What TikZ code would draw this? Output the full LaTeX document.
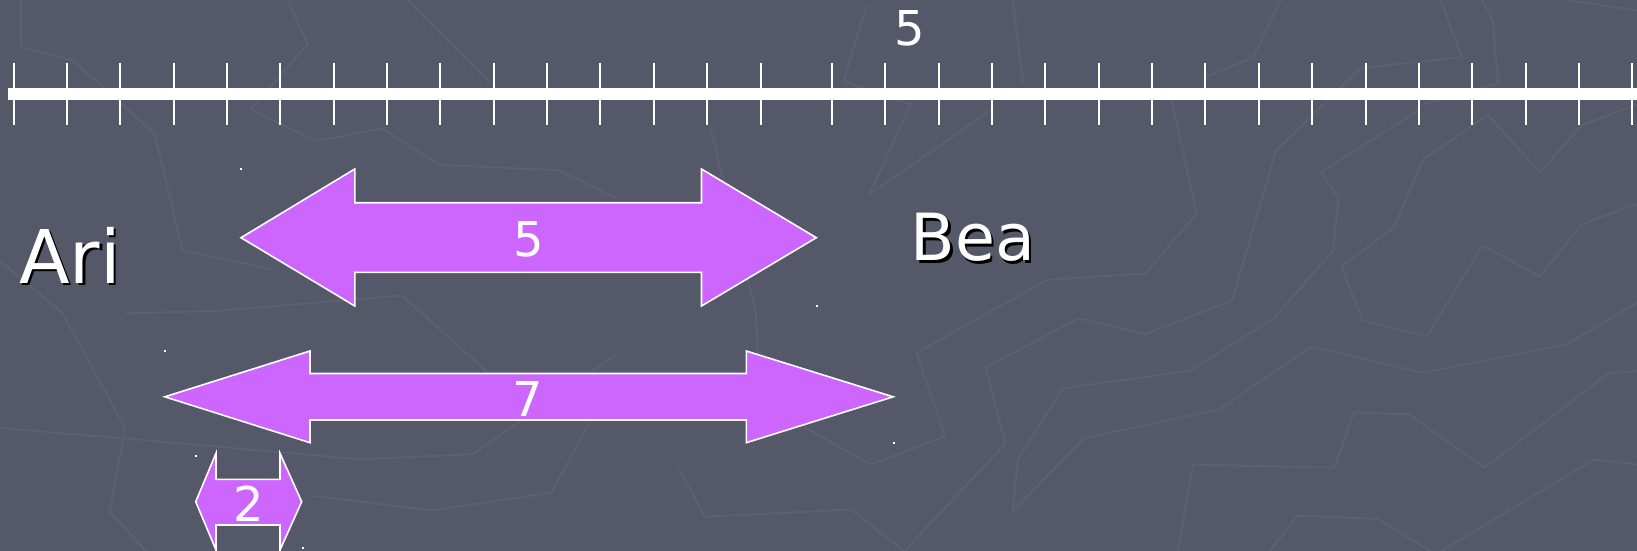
\documentclass[tikz,border=0pt]{standalone}
\usepackage{fontspec}
\setmainfont{DejaVu Sans}
\definecolor{bg}{RGB}{85,88,104}
\definecolor{faint}{RGB}{93,96,112}
\definecolor{arrowfill}{RGB}{204,102,255}
\tikzset{
  faintline/.style={draw=faint, line width=1.8pt, line join=round},
  axisline/.style={draw=white, line width=11.5pt},
  tickmark/.style={draw=white, line width=2pt},
  arrowshape/.style={fill=arrowfill, draw=white, line width=1.6pt, line join=miter},
  numlabel/.style={text=white, inner sep=0pt, anchor=base, font=\fontsize{48}{56}\selectfont},
  bigname/.style={text=white, inner sep=0pt, anchor=base west},
  shadowname/.style={text=black, inner sep=0pt, anchor=base west},
  handle/.style={fill=white}
}
\begin{document}
\begin{tikzpicture}[x=1pt,y=-1pt]
\fill[bg] (0,0) rectangle (1637,551);
\useasboundingbox (0,0) rectangle (1637,551);

% faint background texture
\begin{scope}[scale=1.044]
\draw[faintline] (20,0) -- (20,45) -- (70,58) -- (148,128) -- (175,240) -- (260,258);
\draw[faintline] (275,0) -- (295,42) -- (240,105) -- (303,135) -- (366,123) -- (421,158) -- (535,163) -- (590,190);
\draw[faintline] (390,0) -- (470,80);
\draw[faintline] (830,5) -- (808,78) -- (872,100) -- (833,186) -- (950,105);
\draw[faintline] (970,0) -- (980,80);
\draw[faintline] (1227,0) -- (1200,55) -- (1152,75);
\draw[faintline] (1380,0) -- (1400,55) -- (1303,65) -- (1222,145) -- (1180,288) -- (1097,320) -- (1033,305) -- (944,352) -- (963,425) -- (866,528);
\draw[faintline] (1420,0) -- (1430,20) -- (1435,80) -- (1363,100);
\draw[faintline] (1500,0) -- (1568,10);
\draw[faintline] (1568,100) -- (1515,120) -- (1475,165) -- (1425,110) -- (1363,153) -- (1335,218) -- (1285,255) -- (1305,307) -- (1367,322) -- (1420,235) -- (1475,265) -- (1515,215) -- (1568,195);
\draw[faintline] (1568,290) -- (1500,330) -- (1363,357) -- (1256,332) -- (1168,392) -- (1038,420) -- (970,490) -- (975,440) -- (1018,372) -- (1140,355) -- (1220,305) -- (1277,240) -- (1282,190) -- (1265,165) -- (1360,105);
\draw[faintline] (1568,355) -- (1540,358) -- (1422,448) -- (1350,397) -- (1297,395) -- (1278,448) -- (1143,445) -- (1128,528);
\draw[faintline] (1568,445) -- (1527,440) -- (1380,528);
\draw[faintline] (1216,528) -- (1243,494) -- (1320,497) -- (1370,528);
\draw[faintline] (680,120) -- (724,300) -- (728,385) -- (834,445) -- (905,418) -- (878,338) -- (1003,268) -- (1097,262) -- (1146,205) -- (1120,85);
\draw[faintline] (650,448) -- (675,495) -- (815,488) -- (866,528);
\draw[faintline] (570,395) -- (528,472) -- (413,489) -- (300,475);
\draw[faintline] (590,340) -- (453,435) -- (345,440);
\draw[faintline] (120,300) -- (205,298) -- (385,283) -- (510,395);
\draw[faintline] (0,410) -- (120,420) -- (345,440);
\draw[faintline] (0,250) -- (60,300) -- (120,410) -- (105,490) -- (140,528);
\end{scope}

% number line
\draw[axisline] (7.5,94) -- (1637,94);
\foreach \k in {0,...,14} \draw[tickmark] ({13.6+53.35*\k},62.6) -- ++(0,62);
\foreach \k in {0,...,15} \draw[tickmark] ({832+53.35*\k},62.6) -- ++(0,62);
\node[numlabel] (axislabel) at (909.5,45.7) {5};

% names
\node[shadowname, font=\fontsize{74}{88}\selectfont] (arishadow) at (21.5,285.8) {Ari};
\node[bigname, font=\fontsize{74}{88}\selectfont] (ari) at (19,283.3) {Ari};
\node[shadowname, font=\fontsize{65}{78}\selectfont] (beashadow) at (912.8,263.2) {Bea};
\node[bigname, font=\fontsize{65}{78}\selectfont] (bea) at (910.3,260.7) {Bea};

% arrow of 5
\filldraw[arrowshape] (241,237.7) -- (354.8,169) -- (354.8,202.7) -- (701.5,202.7) -- (701.5,169) -- (816.3,237.7) -- (701.5,306) -- (701.5,272.3) -- (354.8,272.3) -- (354.8,306) -- cycle;
\node[numlabel] (five) at (528.3,256.7) {5};

% arrow of 7
\filldraw[arrowshape] (164.8,396.8) -- (310,351) -- (310,373.5) -- (746.3,373.5) -- (746.3,351) -- (893.2,396.8) -- (746.3,442.7) -- (746.3,420) -- (310,420) -- (310,442.7) -- cycle;
\node[numlabel] (seven) at (528,416) {7};

% arrow of 2
\filldraw[arrowshape] (195.7,501.7) -- (216,453.3) -- (216,479.3) -- (280,479.3) -- (280,453.3) -- (301.7,501.7) -- (280,550) -- (280,525) -- (216,525) -- (216,550) -- cycle;
\node[numlabel] (two) at (248.3,521.7) {2};

% selection handles
\fill[handle] (240,168) rectangle ++(2,2);
\fill[handle] (815.5,305) rectangle ++(2,2);
\fill[handle] (164,350) rectangle ++(2,2);
\fill[handle] (892.5,442) rectangle ++(2,2);
\fill[handle] (195,455) rectangle ++(2,2);
\fill[handle] (301.5,546.5) rectangle ++(2,2);
\end{tikzpicture}
\end{document}
